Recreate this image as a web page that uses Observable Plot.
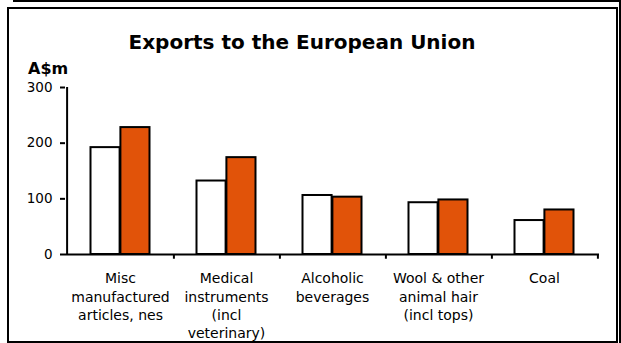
<!DOCTYPE html>
<html>
<head>
<meta charset="utf-8">
<script src="https://cdn.jsdelivr.net/npm/d3@7"></script>
<script src="https://cdn.jsdelivr.net/npm/@observablehq/plot@0.6"></script>
<style>
  html, body { margin: 0; padding: 0; background: #fff; }
  #wrap { position: relative; width: 621px; height: 343px; overflow: hidden; background: #fff; }
  #chart { position: absolute; left: 0; top: 0; }
  .frame { position: absolute; left: 7px; top: 7px; width: 611px; height: 336px; box-sizing: border-box; border: 2px solid #000; }
  .topbar { position: absolute; left: 13px; top: 0; width: 608px; height: 2px; background: #000; }
  .rightbar { position: absolute; left: 619px; top: 0; width: 2px; height: 343px; background: #000; }
  #title { position: absolute; left: 0; top: 30px; width: 604px; text-align: center; font: bold 20px/24px "DejaVu Sans", sans-serif; color: #000; }
  #unit { position: absolute; left: 28px; top: 60px; font: bold 16px/18px "DejaVu Sans", sans-serif; color: #000; }
</style>
</head>
<body>
<div id="wrap">
  <div id="chart"></div>
  <div class="frame"></div>
  <div class="topbar"></div>
  <div class="rightbar"></div>
  <div id="title">Exports to the European Union</div>
  <div id="unit">A$m</div>
</div>
<script>
const categories = [
  "Misc\nmanufactured\narticles, nes",
  "Medical\ninstruments\n(incl\nveterinary)",
  "Alcoholic\nbeverages",
  "Wool & other\nanimal hair\n(incl tops)",
  "Coal"
];
const seriesPrevious = [192, 132, 106, 93, 61];
const seriesLatest = [228, 174, 103, 98, 80];
const yTicks = [0, 100, 200, 300];

const rows = categories.map((c, i) => ({category: c, previous: seriesPrevious[i], latest: seriesLatest[i]}));

const W = 621, H = 343;
const mLeft = 65, mRight = 22, mTop = 87, mBottom = 89;
const bw = (W - mLeft - mRight) / categories.length;
const pairInset = 23.5;
const half = bw / 2;

const chart = Plot.plot({
  width: W,
  height: H,
  marginLeft: mLeft,
  marginRight: mRight,
  marginTop: mTop,
  marginBottom: mBottom,
  style: {fontFamily: "DejaVu Sans, sans-serif", fontSize: "14px", color: "#000", background: "transparent"},
  x: {domain: categories, padding: 0, axis: null},
  y: {domain: [0, 300], axis: null},
  marks: [
    Plot.barY(rows, {x: "category", y: "previous", fill: "#ffffff", stroke: "#000", strokeWidth: 2,
      insetLeft: pairInset, insetRight: bw - half}),
    Plot.barY(rows, {x: "category", y: "latest", fill: "#e15309", stroke: "#000", strokeWidth: 2,
      insetLeft: half, insetRight: pairInset}),
    Plot.ruleY([0], {stroke: "#000", strokeWidth: 2}),
    Plot.ruleX([categories[0]], {x: d => d, y1: 0, y2: 300, dx: -half, stroke: "#000", strokeWidth: 2}),
    Plot.ruleX(categories, {x: d => d, y1: 0, y2: -8.5, dx: half, stroke: "#000", strokeWidth: 2}),
    Plot.axisY({ticks: yTicks, label: null, tickSize: 5, tickPadding: 8, strokeWidth: 2, fontSize: 13.5, tickFormat: d => String(d)}),
    Plot.axisX({label: null, tickSize: 0, tickPadding: 16, fontSize: 14, lineHeight: 1.3})
  ]
});
document.getElementById("chart").appendChild(chart);
</script>
</body>
</html>
